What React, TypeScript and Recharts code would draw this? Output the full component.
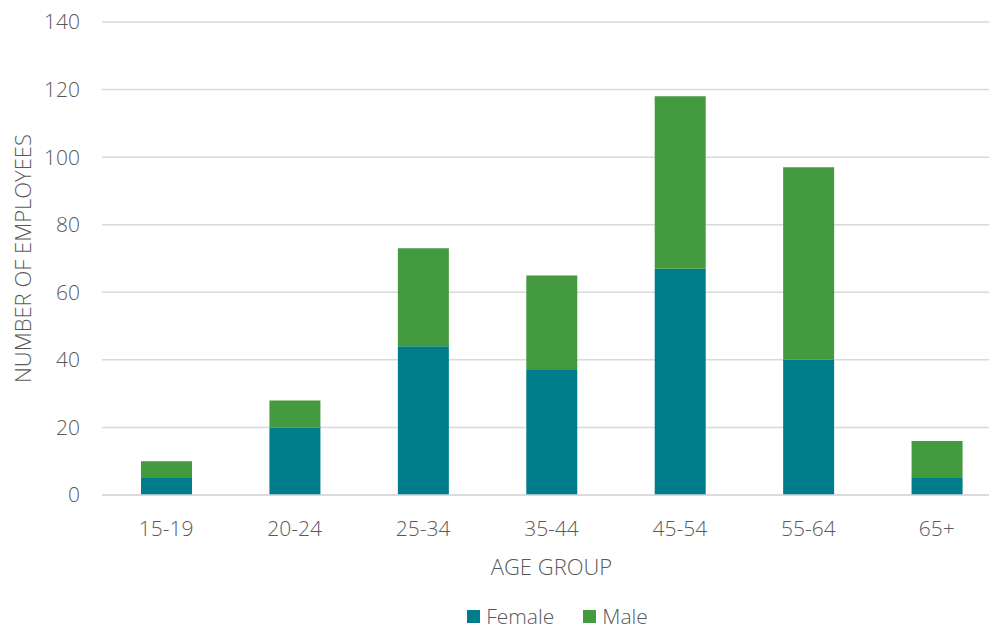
import { BarChart, Bar, XAxis, YAxis, CartesianGrid, Legend } from "recharts";

const AGE_GROUPS = ["15-19", "20-24", "25-34", "35-44", "45-54", "55-64", "65+"];
const FEMALE = [5, 20, 44, 37, 67, 40, 5];
const MALE = [5, 8, 29, 28, 51, 57, 11];
const Y_TICKS = [0, 20, 40, 60, 80, 100, 120, 140];

const FONT = "'Open Sans', 'Segoe UI', sans-serif";
const TEXT = "#595959";

const data = AGE_GROUPS.map((age, i) => ({ age, female: FEMALE[i], male: MALE[i] }));

// legend is centred under the plot area, not the whole svg
function LegendContent({ payload }: any) {
  return (
    <div style={{ display: "flex", justifyContent: "center", gap: 29, paddingLeft: 114, fontFamily: FONT, fontWeight: 300, fontSize: 21, color: TEXT, lineHeight: "26px" }}>
      {(payload || []).map((p: any) => (
        <span key={p.value} style={{ display: "flex", alignItems: "center", gap: 6 }}>
          <span style={{ width: 13, height: 13, background: p.color, display: "inline-block" }} />
          {p.value}
        </span>
      ))}
    </div>
  );
}

export default function App() {
  return (
    <div style={{ position: "fixed", left: 0, top: 0, width: 989, height: 629, overflow: "hidden", background: "#fff" }}>
      <BarChart width={1010} height={629} data={data} margin={{ top: 22, right: 9, bottom: 0, left: 0 }}>
        <CartesianGrid vertical={false} stroke="#d9d9d9" strokeWidth={1.5} />
        <XAxis
          dataKey="age"
          tickLine={false}
          axisLine={{ stroke: "#d9d9d9", strokeWidth: 1.5 }}
          tick={{ fill: TEXT, fontSize: 21, fontFamily: FONT, fontWeight: 300 }}
          tickMargin={20}
          height={108}
          label={{ value: "AGE GROUP", position: "insideBottom", offset: 28, fill: TEXT, fontSize: 22, fontFamily: FONT, fontWeight: 300 }}
        />
        <YAxis
          domain={[0, 140]}
          ticks={Y_TICKS}
          tickLine={false}
          axisLine={false}
          width={102}
          tickMargin={16}
          tick={{ fill: TEXT, fontSize: 21, fontFamily: FONT, fontWeight: 300 }}
          label={{ value: "NUMBER OF EMPLOYEES", angle: -90, position: "insideLeft", offset: 23, style: { textAnchor: "middle" }, fill: TEXT, fontSize: 22, fontFamily: FONT, fontWeight: 300 }}
        />
        <Legend verticalAlign="bottom" height={26} content={<LegendContent />} />
        <Bar dataKey="female" name="Female" stackId="a" fill="#007d8a" barSize={51} isAnimationActive={false} />
        <Bar dataKey="male" name="Male" stackId="a" fill="#439a3f" barSize={51} isAnimationActive={false} />
      </BarChart>
    </div>
  );
}
